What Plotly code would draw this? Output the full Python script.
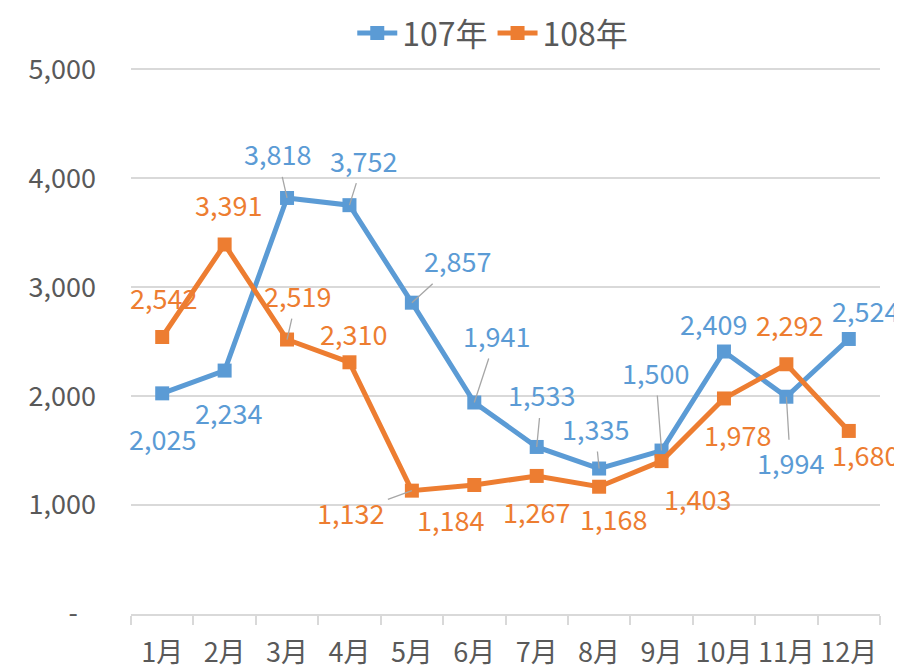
import plotly.graph_objects as go

months = ["1月", "2月", "3月", "4月", "5月", "6月", "7月", "8月", "9月", "10月", "11月", "12月"]
series_107 = [2025, 2234, 3818, 3752, 2857, 1941, 1533, 1335, 1500, 2409, 1994, 2524]
series_108 = [2542, 3391, 2519, 2310, 1132, 1184, 1267, 1168, 1403, 1978, 2292, 1680]
y_tick_vals = [0, 1000, 2000, 3000, 4000, 5000]
y_tick_text = ["-\u00a0\u00a0\u00a0", "1,000", "2,000", "3,000", "4,000", "5,000"]

BLUE = "#5B9BD5"
ORANGE = "#ED7D31"
FONT = "Noto Sans CJK TC"
LEADER = "#A6A6A6"

# label offsets (pixels: dx right, dy down) and whether a leader line is drawn
off_107 = [(0, 45, False), (4, 42, False), (-10, -44, True), (14, -45, True),
           (46, -42, True), (22, -67, True), (5, -52, True), (-4, -40, True),
           (-6, -78, True), (-10, -28, False), (4, 66, True), (17, -28, False)]
off_108 = [(1, -40, False), (4, -40, False), (10, -44, True), (4, -29, False),
           (-61, 22, True), (-24, 35, False), (0, 36, False), (14, 32, False),
           (36, 37, False), (14, 36, False), (3, -40, False), (17, 24, False)]

fig = go.Figure()
for name, vals, color in [("107年", series_107, BLUE), ("108年", series_108, ORANGE)]:
    fig.add_trace(go.Scatter(
        x=months, y=vals, name=name, mode="lines+markers",
        line=dict(color=color, width=5),
        marker=dict(symbol="square", size=14, color=color),
    ))

annotations = []
for vals, offs, color in [(series_107, off_107, BLUE), (series_108, off_108, ORANGE)]:
    for m, v, (dx, dy, lead) in zip(months, vals, offs):
        annotations.append(dict(
            x=m, y=v, xref="x", yref="y", text=f"{v:,}",
            showarrow=True, ax=dx, ay=dy, axref="pixel", ayref="pixel",
            arrowhead=0, arrowwidth=1.3,
            arrowcolor=LEADER if lead else "rgba(0,0,0,0)",
            standoff=0, borderpad=3,
            font=dict(family=FONT, size=27, color=color),
        ))

# page body has an 8px margin, so the figure is drawn 8px smaller and margins shifted
fig.update_layout(
    width=894, height=662,
    margin=dict(l=123, r=22, t=59, b=56, autoexpand=False),
    paper_bgcolor="white", plot_bgcolor="white",
    font=dict(family=FONT, size=27, color="#595959"),
    showlegend=True,
    legend=dict(orientation="h", x=0.483, xanchor="center", xref="paper",
                y=1.112, yanchor="top", yref="paper",
                font=dict(family=FONT, size=32, color="#595959"),
                itemwidth=40, traceorder="normal"),
    annotations=annotations,
)

fig.update_xaxes(
    type="category", range=[-0.5, 11.5], automargin=False, tickangle=0,
    showline=True, linecolor="#D9D9D9", linewidth=1.5,
    ticks="outside", tickson="boundaries", ticklen=9, tickcolor="#D9D9D9", tickwidth=1.5,
    ticklabelstandoff=14,
    showgrid=False, tickfont=dict(family=FONT, size=27, color="#595959"),
)
fig.update_yaxes(
    range=[0, 5020], tickvals=y_tick_vals, ticktext=y_tick_text, automargin=False,
    showgrid=True, gridcolor="#D9D9D9", gridwidth=1.5, zeroline=False,
    showline=False, ticks="", ticklabelstandoff=34,
    tickfont=dict(family=FONT, size=27, color="#595959"),
)

fig.write_html("out.html")
